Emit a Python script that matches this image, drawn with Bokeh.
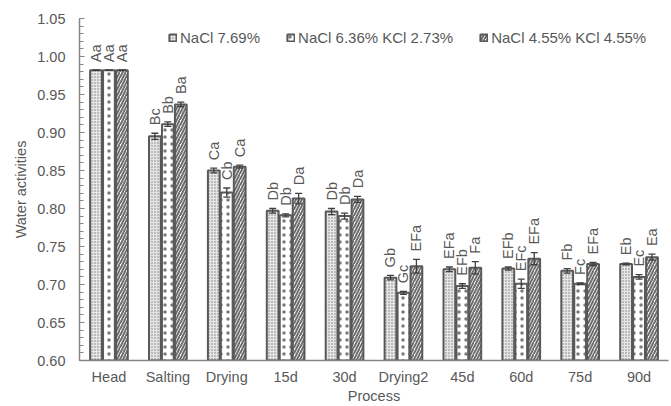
import math
from bokeh.plotting import figure
from bokeh.models import ColumnDataSource, NumeralTickFormatter, FixedTicker, Legend, LegendItem
from bokeh.transform import dodge
from bokeh.core.properties import value
from bokeh.embed import file_html
from bokeh.resources import INLINE

categories = ["Head", "Salting", "Drying", "15d", "30d", "Drying2", "45d", "60d", "75d", "90d"]
series_names = ["NaCl 7.69%", "NaCl 6.36% KCl 2.73%", "NaCl 4.55% KCl 4.55%"]

s1_vals = [0.982, 0.895, 0.850, 0.797, 0.796, 0.709, 0.720, 0.721, 0.718, 0.727]
s2_vals = [0.982, 0.911, 0.821, 0.791, 0.790, 0.689, 0.698, 0.701, 0.701, 0.710]
s3_vals = [0.982, 0.937, 0.855, 0.813, 0.812, 0.724, 0.722, 0.734, 0.727, 0.736]

s1_err = [0.000, 0.004, 0.003, 0.003, 0.004, 0.003, 0.003, 0.002, 0.003, 0.001]
s2_err = [0.000, 0.003, 0.006, 0.002, 0.004, 0.002, 0.003, 0.006, 0.001, 0.003]
s3_err = [0.000, 0.003, 0.002, 0.007, 0.004, 0.009, 0.008, 0.008, 0.002, 0.004]

s1_labels = ["Aa", "Bc", "Ca", "Db", "Db", "Gb", "EFa", "EFb", "Fb", "Eb"]
s2_labels = ["Aa", "Bb", "Cb", "Db", "Db", "Gc", "EFb", "EFc", "Fc", "Ec"]
s3_labels = ["Aa", "Ba", "Ca", "Da", "Da", "EFa", "Fa", "EFa", "EFa", "Ea"]

y_ticks = [0.60, 0.65, 0.70, 0.75, 0.80, 0.85, 0.90, 0.95, 1.00, 1.05]

TXT = "#595959"
FONT = "Liberation Sans"

p = figure(x_range=categories, y_range=(0.60, 1.05), width=671, height=406,
           output_backend="svg", toolbar_location=None,
           min_border_left=79, min_border_right=3, min_border_top=18, min_border_bottom=44)
p.outline_line_color = None
p.xgrid.grid_line_color = None
p.ygrid.grid_line_color = None
p.background_fill_color = "white"

styles = [
    dict(fill_color="#e6e6e6", hatch_pattern="dot", hatch_color="#7a7a7a", hatch_scale=3, hatch_weight=1),
    dict(fill_color="white", hatch_pattern="dot", hatch_color="#7a7a7a", hatch_scale=7, hatch_weight=1.2),
    dict(fill_color="white", hatch_pattern="right_diagonal_line", hatch_color="#6e6e6e", hatch_scale=6, hatch_weight=2),
]
offsets = [-0.22, 0.0, 0.22]
vals_all = [s1_vals, s2_vals, s3_vals]
errs_all = [s1_err, s2_err, s3_err]
labs_all = [s1_labels, s2_labels, s3_labels]

legend_items = []
for i in range(3):
    vals = vals_all[i]
    errs = errs_all[i]
    src = ColumnDataSource(dict(
        cat=categories, top=vals,
        up=[v + e for v, e in zip(vals, errs)],
        lo=[v - e for v, e in zip(vals, errs)],
        lab=labs_all[i],
    ))
    xd = dodge("cat", offsets[i], range=p.x_range)
    r = p.vbar(x=xd, top="top", bottom=0.60, width=0.2, source=src,
               line_color="#595959", line_width=2, **styles[i])
    legend_items.append(LegendItem(label=series_names[i], renderers=[r]))
    p.segment(x0=xd, x1=xd, y0="lo", y1="up", source=src, line_color="#404040", line_width=1.3)
    p.scatter(x=xd, y="up", marker="dash", size=7, source=src, line_color="#404040", line_width=1.3)
    p.scatter(x=xd, y="lo", marker="dash", size=7, source=src, line_color="#404040", line_width=1.3)
    p.text(x=xd, y="up", text="lab", source=src, angle=math.pi / 2, text_align="left",
           text_baseline="middle", y_offset=-8, text_color=TXT,
           text_font=value(FONT), text_font_size="14.5px")

legend = Legend(items=legend_items, orientation="horizontal", location=(89, 314),
                border_line_color=None, background_fill_alpha=0, padding=0, margin=0,
                spacing=26, glyph_width=9, glyph_height=9, label_height=14,
                label_standoff=3, label_text_font=FONT, label_text_font_size="15px",
                label_text_color=TXT)
p.add_layout(legend)

# axes
p.yaxis.ticker = FixedTicker(ticks=y_ticks, minor_ticks=[round(0.60 + 0.01 * k, 2) for k in range(46)])
p.yaxis.formatter = NumeralTickFormatter(format="0.00")
p.yaxis.axis_label = "Water activities"
p.xaxis.axis_label = "Process"
for ax in (p.xaxis, p.yaxis):
    ax.axis_line_color = "#868686"
    ax.axis_line_width = 1.5
    ax.major_label_text_color = TXT
    ax.major_label_text_font = FONT
    ax.major_label_text_font_size = "14.5px"
    ax.axis_label_text_color = TXT
    ax.axis_label_text_font = FONT
    ax.axis_label_text_font_size = "14.5px"
    ax.axis_label_text_font_style = "normal"
p.yaxis.major_tick_in = 5
p.yaxis.major_tick_out = 0
p.yaxis.minor_tick_in = 4
p.yaxis.minor_tick_out = 0
p.yaxis.major_tick_line_color = "#868686"
p.yaxis.minor_tick_line_color = "#868686"
p.yaxis.major_label_standoff = 14
p.yaxis.axis_label_standoff = 5
p.xaxis.major_tick_line_color = None
p.xaxis.minor_tick_line_color = None
p.xaxis.major_tick_in = 0
p.xaxis.major_tick_out = 0
p.xaxis.minor_tick_in = 0
p.xaxis.minor_tick_out = 0
p.xaxis.major_label_standoff = 8
p.xaxis.axis_label_standoff = 0

open("out.html", "w").write(file_html(p, INLINE))
